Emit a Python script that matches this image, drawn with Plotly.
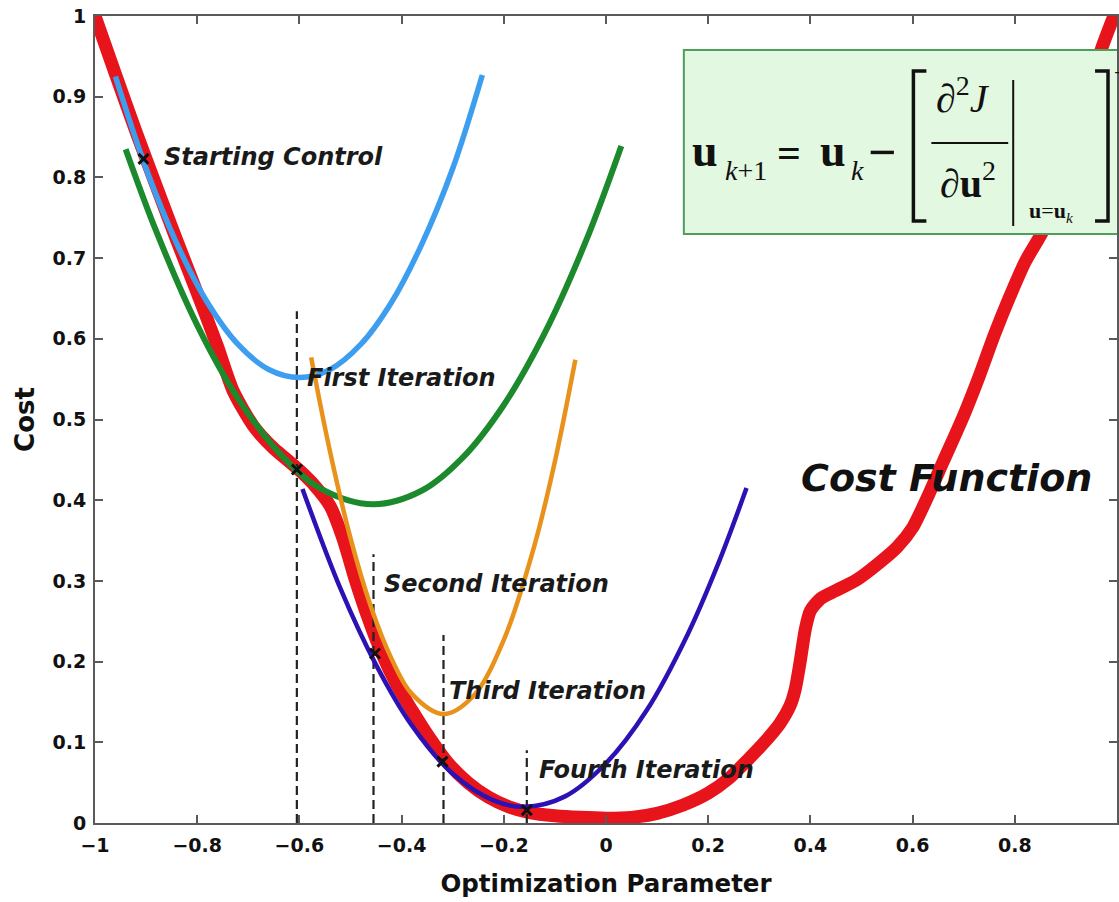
import plotly.graph_objects as go

# ---------------- data ----------------
cost_x = [-1.0, -0.96, -0.92, -0.88, -0.84, -0.80, -0.76, -0.73, -0.69, -0.65, -0.62, -0.60,
          -0.57, -0.54, -0.515, -0.49, -0.47, -0.44, -0.41, -0.38, -0.35, -0.31, -0.27, -0.23,
          -0.19, -0.15, -0.10, -0.05, 0.0, 0.05, 0.10, 0.15, 0.20, 0.24, 0.28, 0.31, 0.34, 0.36,
          0.37, 0.38, 0.39, 0.40, 0.42, 0.45, 0.49, 0.53, 0.57, 0.60, 0.63, 0.66, 0.70, 0.73,
          0.76, 0.79, 0.82, 0.86, 0.90, 0.94, 0.97, 1.0]
cost_y = [1.0, 0.928, 0.857, 0.789, 0.722, 0.657, 0.590, 0.536, 0.492, 0.464, 0.448, 0.437,
          0.418, 0.393, 0.353, 0.300, 0.262, 0.212, 0.172, 0.140, 0.110, 0.075, 0.050, 0.032,
          0.020, 0.013, 0.009, 0.007, 0.006, 0.007, 0.012, 0.022, 0.037, 0.055, 0.080, 0.100,
          0.123, 0.145, 0.165, 0.200, 0.240, 0.263, 0.278, 0.288, 0.301, 0.320, 0.342, 0.366,
          0.405, 0.448, 0.505, 0.553, 0.605, 0.652, 0.695, 0.740, 0.820, 0.900, 0.960, 1.010]

first_x = [-0.96, -0.90, -0.84, -0.78, -0.72, -0.66, -0.60, -0.54, -0.48, -0.42, -0.36, -0.30, -0.242]
first_y = [0.925, 0.811, 0.718, 0.645, 0.593, 0.562, 0.552, 0.562, 0.593, 0.645, 0.718, 0.811, 0.927]

second_x = [-0.94, -0.88, -0.80, -0.72, -0.64, -0.56, -0.456, -0.36, -0.28, -0.20, -0.12, -0.04, 0.03]
second_y = [0.835, 0.733, 0.617, 0.526, 0.459, 0.415, 0.395, 0.412, 0.453, 0.518, 0.607, 0.720, 0.839]

third_x = [-0.577, -0.54, -0.50, -0.46, -0.42, -0.38, -0.318, -0.26, -0.20, -0.14, -0.10, -0.06]
third_y = [0.577, 0.460, 0.353, 0.268, 0.204, 0.160, 0.135, 0.157, 0.227, 0.344, 0.448, 0.574]

fourth_x = [-0.594, -0.52, -0.45, -0.38, -0.30, -0.22, -0.16, -0.08, 0.0, 0.08, 0.16, 0.22, 0.275]
fourth_y = [0.414, 0.291, 0.196, 0.121, 0.061, 0.028, 0.020, 0.033, 0.074, 0.140, 0.234, 0.322, 0.415]

iter_x = [-0.905, -0.605, -0.452, -0.320, -0.155]
iter_y = [0.823, 0.438, 0.210, 0.076, 0.016]

guide_x = [-0.605, -0.455, -0.318, -0.155]
guide_top = [0.634, 0.333, 0.233, 0.090]

labels = ["Starting Control", "First Iteration", "Second Iteration", "Third Iteration", "Fourth Iteration"]
label_x = [-0.868, -0.590, -0.438, -0.311, -0.136]
label_y = [0.825, 0.552, 0.296, 0.163, 0.066]

# ---------------- figure ----------------
W, H = 1119, 902
ML, MR, MT, MB = 95, 0, 16, 79
PW, PH = W - ML - MR, H - MT - MB


def dx(px):
    return (px - ML) / PW * 2 - 1


def dy(py):
    return (H - MB - py) / PH


SANS = "DejaVu Sans, Liberation Sans, Arial, sans-serif"
SERIF = "Liberation Serif, Times New Roman, serif"

fig = go.Figure()

fig.add_trace(go.Scatter(x=cost_x, y=cost_y, mode="lines",
                         line=dict(color="#e8141c", width=13, shape="spline", smoothing=0.7)))

gx, gy = [], []
for xv, top in zip(guide_x, guide_top):
    gx += [xv, xv, None]
    gy += [0, top, None]
fig.add_trace(go.Scatter(x=gx, y=gy, mode="lines",
                         line=dict(color="#222222", width=2.2, dash="9px,5px")))

fig.add_trace(go.Scatter(x=first_x, y=first_y, mode="lines",
                         line=dict(color="#3d9ef0", width=5.5, shape="spline")))
fig.add_trace(go.Scatter(x=second_x, y=second_y, mode="lines",
                         line=dict(color="#1c8a2c", width=6, shape="spline")))
fig.add_trace(go.Scatter(x=third_x, y=third_y, mode="lines",
                         line=dict(color="#e8921c", width=4.5, shape="spline")))
fig.add_trace(go.Scatter(x=fourth_x, y=fourth_y, mode="lines",
                         line=dict(color="#2c12b4", width=4.5, shape="spline")))

fig.add_trace(go.Scatter(x=iter_x, y=iter_y, mode="markers",
                         marker=dict(symbol="x-thin", size=10, line=dict(color="#111111", width=3))))

annotations = []
for t, xv, yv in zip(labels, label_x, label_y):
    annotations.append(dict(x=xv, y=yv, xref="x", yref="y", text=t, showarrow=False,
                            xanchor="left", yanchor="middle",
                            font=dict(family=SANS, size=24, color="#1a1a1a",
                                      weight="bold", style="italic")))
annotations.append(dict(x=dx(800), y=dy(478), xref="x", yref="y", text="Cost Function",
                        showarrow=False, xanchor="left", yanchor="middle",
                        font=dict(family=SANS, size=38, color="#111111",
                                  weight="bold", style="italic")))


# formula pieces
def fa(px, py, text, size, anchor="center"):
    annotations.append(dict(x=dx(px), y=dy(py), xref="x", yref="y", text=text,
                            showarrow=False, xanchor=anchor, yanchor="middle",
                            font=dict(family=SERIF, size=size, color="#111111")))


fa(706, 150, "<b>u</b>", 46)
fa(724, 170, "<i>k</i>+1", 28, "left")
fa(790, 153, "<b>=</b>", 42)
fa(834, 150, "<b>u</b>", 46)
fa(850, 170, "<i>k</i>", 28, "left")
fa(884, 152, "<b>−</b>", 50)
fa(965, 95, "∂<sup>2</sup><i>J</i>", 40)
fa(970, 180, "∂<b>u</b><sup>2</sup>", 40)
fa(1053, 212, "<b>u</b>=<b>u</b><sub><i>k</i></sub>", 22)
fa(1114, 72, "−1", 22, "left")

shapes = [
    dict(type="rect", xref="x", yref="y", x0=dx(685), x1=dx(1140), y0=dy(234), y1=dy(50),
         fillcolor="#e2f8e0", line=dict(color="#4e9e5c", width=2), layer="above"),
    # fraction bar
    dict(type="line", xref="x", yref="y", x0=dx(933), x1=dx(1010), y0=dy(143), y1=dy(143),
         line=dict(color="#111111", width=2), layer="above"),
    # evaluation bar
    dict(type="line", xref="x", yref="y", x0=dx(1015), x1=dx(1015), y0=dy(80), y1=dy(226),
         line=dict(color="#111111", width=2), layer="above"),
    # left bracket
    dict(type="path", xref="x", yref="y",
         path=f"M {dx(928)},{dy(71)} L {dx(915)},{dy(71)} L {dx(915)},{dy(221)} L {dx(928)},{dy(221)}",
         line=dict(color="#111111", width=3.5), layer="above"),
    # right bracket
    dict(type="path", xref="x", yref="y",
         path=f"M {dx(1097)},{dy(71)} L {dx(1110)},{dy(71)} L {dx(1110)},{dy(221)} L {dx(1097)},{dy(221)}",
         line=dict(color="#111111", width=3.5), layer="above"),
]

axis_common = dict(showgrid=False, zeroline=False, showline=True, linecolor="#5a5a5a",
                   linewidth=2, mirror="ticks", ticks="inside", ticklen=8, tickwidth=1.5,
                   tickcolor="#5a5a5a",
                   tickfont=dict(family=SANS, size=19, color="#111111", weight="bold"))

fig.update_layout(
    width=W, height=H,
    margin=dict(l=ML, r=MR, t=MT, b=MB),
    paper_bgcolor="white", plot_bgcolor="white",
    showlegend=False,
    xaxis=dict(range=[-1, 1], tick0=-1, dtick=0.2, ticklabelstandoff=4,
               title=dict(text="Optimization Parameter", standoff=20,
                          font=dict(family=SANS, size=24.5, color="#111111", weight="bold")),
               **axis_common),
    yaxis=dict(range=[0, 1], tick0=0, dtick=0.1, ticklabelstandoff=3,
               title=dict(text="Cost", standoff=10,
                          font=dict(family=SANS, size=26, color="#111111", weight="bold")),
               **axis_common),
    annotations=annotations,
    shapes=shapes,
)

fig.write_html("out.html")
